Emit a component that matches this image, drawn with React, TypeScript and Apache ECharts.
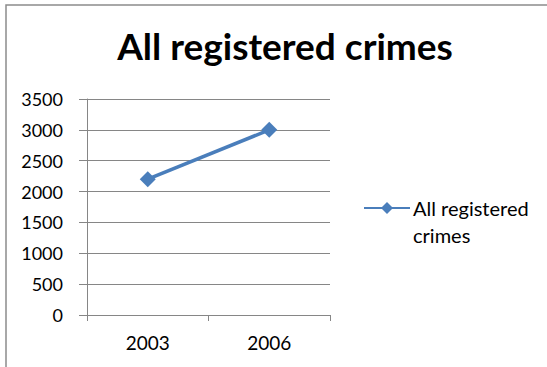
import React, { useEffect, useRef } from "react";
import * as echarts from "echarts";

const categories = ["2003", "2006"];
const crimes = [2200, 3000];
const seriesName = "All registered crimes";
const titleText = "All registered crimes";
const legendLines = ["All registered", "crimes"];

export default function App() {
  const ref = useRef<HTMLDivElement>(null);
  useEffect(() => {
    if (!ref.current) return;
    const chart = echarts.init(ref.current, null, { renderer: "svg" });
    const font = "Lato, 'Open Sans', sans-serif";
    chart.setOption({
      animation: false,
      backgroundColor: "#ffffff",
      title: {
        text: titleText,
        left: 280,
        textAlign: "center",
        top: 22,
        textStyle: { fontFamily: font, fontSize: 37, fontWeight: "bold", color: "#000" },
      },
      graphic: [
        {
          type: "rect",
          shape: { x: 6, y: 5, width: 700, height: 500 },
          style: { fill: "none", stroke: "#8c8c8c", lineWidth: 1.5 },
          silent: true,
        },
      ],
      legend: {
        left: 358,
        top: 166,
        itemWidth: 46,
        itemHeight: 15,
        data: [seriesName],
        formatter: () => "{e| }\n{t|" + legendLines[0] + "}\n{t|" + legendLines[1] + "}",
        textStyle: {
          fontFamily: font,
          fontSize: 20,
          color: "#000",
          rich: {
            e: { fontFamily: font, fontSize: 20, lineHeight: 27 },
            t: { fontFamily: font, fontSize: 20, lineHeight: 27, color: "#000", padding: [0, 0, 0, -2] },
          },
        },
      },
      grid: { left: 87, right: 217, top: 99, bottom: 52 },
      xAxis: {
        type: "category",
        data: categories,
        boundaryGap: true,
        axisLine: { lineStyle: { color: "#868686", width: 1 } },
        axisTick: { show: true, length: 6, lineStyle: { color: "#868686" } },
        axisLabel: { margin: 18, fontFamily: font, fontSize: 19, color: "#000" },
        splitLine: { show: false },
      },
      yAxis: {
        type: "value",
        min: 0,
        max: 3500,
        interval: 500,
        axisLine: { show: true, lineStyle: { color: "#868686", width: 1 } },
        axisTick: { show: true, length: 8, lineStyle: { color: "#868686" } },
        axisLabel: {
          margin: 24,
          fontFamily: font,
          fontSize: 18,
          color: "#000",
          formatter: (v: number) => String(v),
        },
        splitLine: { show: true, lineStyle: { color: "#868686", width: 1 } },
      },
      series: [
        {
          name: seriesName,
          type: "line",
          data: crimes,
          symbol: "diamond",
          symbolSize: 16,
          lineStyle: { color: "#4a7ebb", width: 3.5 },
          itemStyle: { color: "#4a7ebb" },
        },
      ],
    });
    return () => chart.dispose();
  }, []);
  return (
    <div
      ref={ref}
      style={{ position: "absolute", left: 0, top: 0, width: 547, height: 367 }}
    />
  );
}
